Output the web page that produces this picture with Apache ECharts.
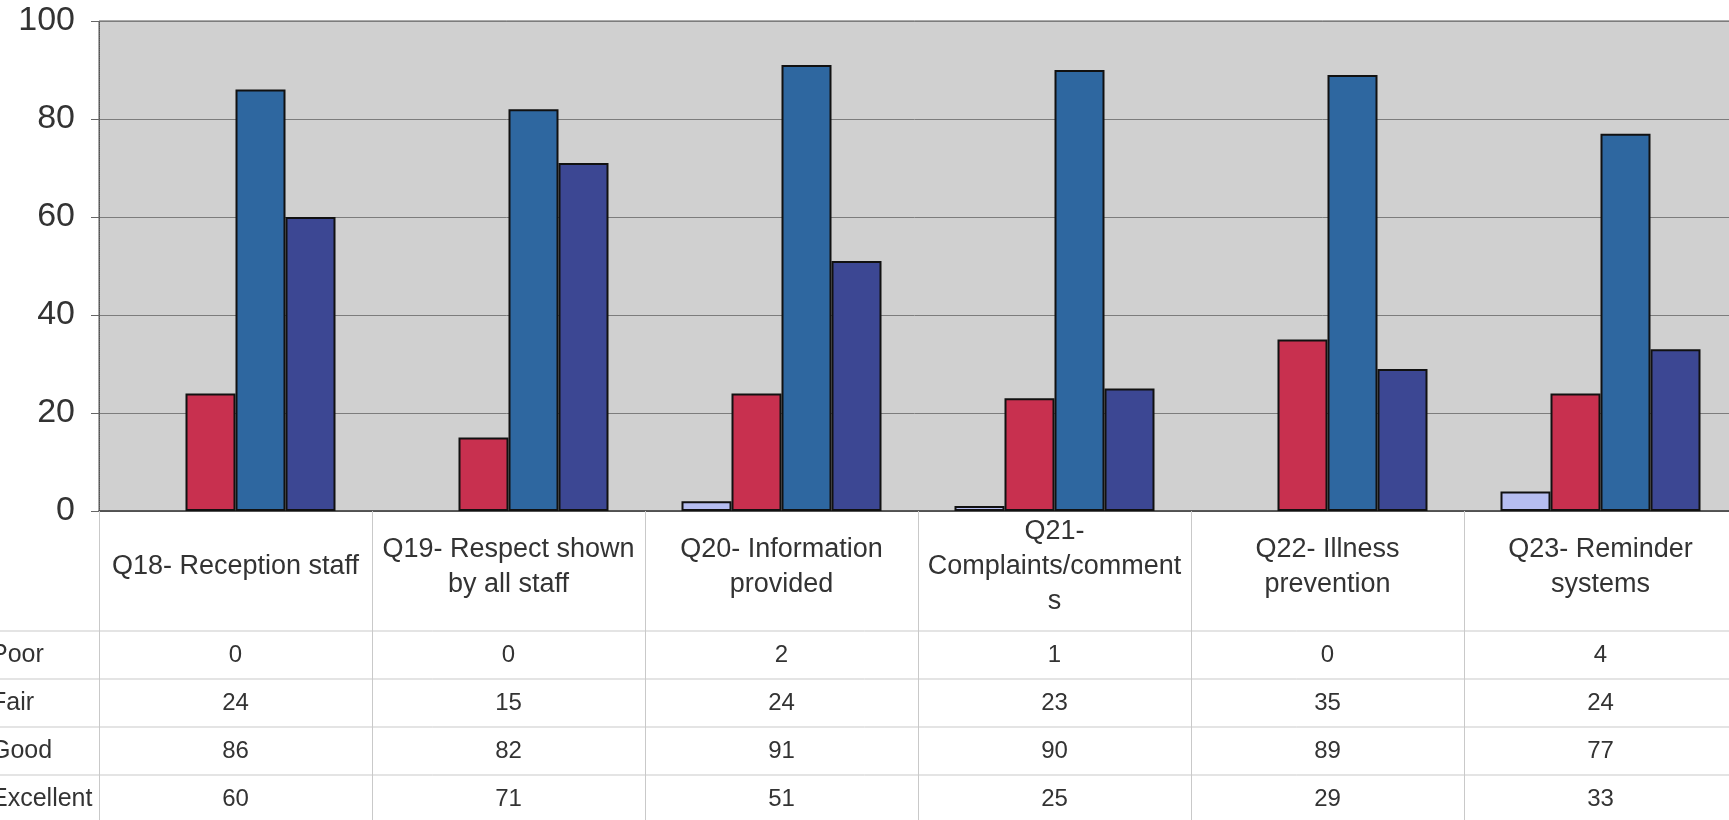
<!DOCTYPE html>
<html>
<head>
<meta charset="utf-8">
<title>Patient survey – ratings by question</title>
<script src="https://cdn.jsdelivr.net/npm/echarts@6/dist/echarts.min.js"></script>
<style>
  html, body { margin: 0; padding: 0; background: #ffffff; }
  #chart { width: 1729px; height: 820px; }
</style>
</head>
<body>
<div id="chart"></div>
<script>
// Survey questions (category axis) and the rating counts per question
const categories = [
  'Q18- Reception staff',
  'Q19- Respect shown\nby all staff',
  'Q20- Information\nprovided',
  'Q21-\nComplaints/comment\ns',
  'Q22- Illness\nprevention',
  'Q23- Reminder\nsystems'
];
const poor      = [0, 0, 2, 1, 0, 4];
const fair      = [24, 15, 24, 23, 35, 24];
const good      = [86, 82, 91, 90, 89, 77];
const excellent = [60, 71, 51, 25, 29, 33];

const seriesNames = ['Poor', 'Fair', 'Good', 'Excellent'];
const seriesValues = [poor, fair, good, excellent];
const seriesColors = ['#b6bdf0', '#c8304f', '#2e67a0', '#3c4793'];

const yTicks = { min: 0, max: 100, interval: 20 };

// Layout of the data table drawn under the plot
const FONT = '"Liberation Sans", Arial, sans-serif';
const TEXT = '#333333';
const TABLE_LINE = '#c9c9c9';
const PLOT_TOP = 21;
const PLOT_BOTTOM = 511;
const HEADER_MID = 567;                 // vertical centre of the question header row
const rowTops = [631, 679, 727, 775];   // top edge of each value row
const ROW_H = 48;

const chart = echarts.init(document.getElementById('chart'), null, { renderer: 'canvas' });

// main category axis: question labels in the header row, ticks become the table's column rules
const xAxes = [{
  type: 'category',
  gridIndex: 0,
  data: categories,
  position: 'bottom',
  axisLine: { show: true, lineStyle: { color: '#444', width: 1.5 } },
  axisTick: { show: true, length: 320, lineStyle: { color: TABLE_LINE, width: 1 } },
  axisLabel: {
    color: TEXT, fontFamily: FONT, fontSize: 27, lineHeight: 35,
    verticalAlign: 'middle', margin: HEADER_MID - PLOT_BOTTOM, interval: 0
  },
  splitLine: { show: false }
}];

// one extra axis per rating row, its labels give the table values
seriesNames.forEach((name, i) => {
  xAxes.push({
    type: 'category',
    gridIndex: 0,
    data: seriesValues[i].map(String),
    position: 'bottom',
    offset: rowTops[i] - PLOT_BOTTOM,
    axisLine: { show: false },
    axisTick: { show: false },
    axisLabel: {
      color: TEXT, fontFamily: FONT, fontSize: 24,
      verticalAlign: 'middle', margin: ROW_H / 2, interval: 0
    },
    name: name,
    nameLocation: 'start',
    nameGap: 108,
    nameTextStyle: {
      color: TEXT, fontFamily: FONT, fontSize: 25,
      align: 'left', verticalAlign: 'top', lineHeight: ROW_H
    }
  });
});

// horizontal rules of the table, spanning the full width
const tableRules = rowTops.concat([rowTops[3] + ROW_H]).map(y => ({
  type: 'line',
  shape: { x1: 0, y1: y, x2: 1729, y2: y },
  style: { stroke: TABLE_LINE, lineWidth: 1 },
  z: 0
}));

// zero counts draw no outline, so nothing shows along the baseline
const toBarData = (values) => values.map(v => ({
  value: v,
  itemStyle: v === 0 ? { borderWidth: 0 } : undefined
}));

const option = {
  backgroundColor: '#ffffff',
  animation: false,
  grid: {
    left: 99, top: PLOT_TOP, right: -8, bottom: 820 - PLOT_BOTTOM,
    outerBoundsMode: 'none',
    containLabel: false,
    show: true,
    backgroundColor: '#d0d0d0',
    borderColor: '#555555',
    borderWidth: 1
  },
  xAxis: xAxes,
  yAxis: {
    type: 'value',
    min: yTicks.min, max: yTicks.max, interval: yTicks.interval,
    axisLine: { show: true, lineStyle: { color: '#555', type: 'dotted' } },
    axisTick: { show: true, length: 8, lineStyle: { color: '#666' } },
    axisLabel: { color: TEXT, fontFamily: FONT, fontSize: 34, margin: 24 },
    splitLine: { show: true, lineStyle: { color: '#7c7c7c', width: 1 } }
  },
  graphic: tableRules,
  series: seriesNames.map((name, i) => ({
    name: name,
    type: 'bar',
    xAxisIndex: 0,
    data: toBarData(seriesValues[i]),
    barWidth: 50,
    barGap: '0%',
    itemStyle: { color: seriesColors[i], borderColor: '#111', borderWidth: 2 }
  }))
};

chart.setOption(option);
</script>
</body>
</html>
